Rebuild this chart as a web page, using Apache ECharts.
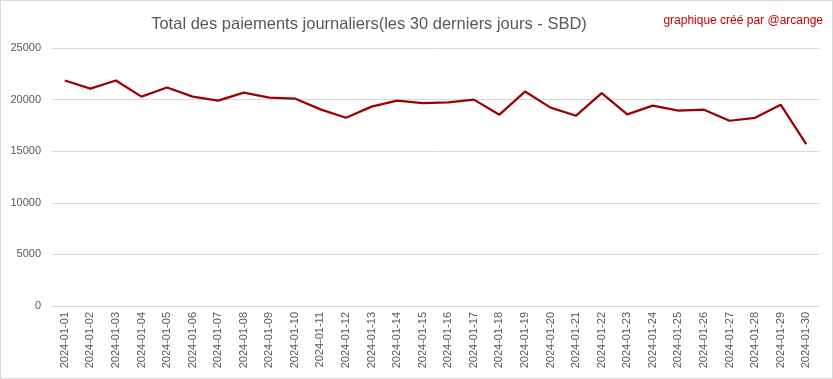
<!DOCTYPE html>
<html><head><meta charset="utf-8">
<script src="https://cdn.jsdelivr.net/npm/echarts@6/dist/echarts.min.js"></script>
<style>html,body{margin:0;padding:0;background:#fff}#c{width:831px;height:377px;border:1px solid #d9d9d9}</style>
</head><body><div id="c"></div>
<script>
const categories = ["2024-01-01","2024-01-02","2024-01-03","2024-01-04","2024-01-05","2024-01-06","2024-01-07","2024-01-08","2024-01-09","2024-01-10","2024-01-11","2024-01-12","2024-01-13","2024-01-14","2024-01-15","2024-01-16","2024-01-17","2024-01-18","2024-01-19","2024-01-20","2024-01-21","2024-01-22","2024-01-23","2024-01-24","2024-01-25","2024-01-26","2024-01-27","2024-01-28","2024-01-29","2024-01-30"];
const payments = [21850,21070,21850,20290,21170,20290,19900,20680,20200,20100,19050,18240,19320,19900,19660,19740,20000,18540,20780,19220,18440,20620,18570,19410,18930,19020,17950,18240,19510,15680];
const yTicks = [0,5000,10000,15000,20000,25000];
const titleText = "Total des paiements journaliers(les 30 derniers jours - SBD)";
const creditText = "graphique créé par @arcange";

const chart = echarts.init(document.getElementById('c'));
chart.setOption({
  animation:false,
  title:[
    {text:titleText,left:363,top:10,textAlign:'center',textStyle:{fontFamily:'Liberation Sans',fontWeight:'normal',fontSize:16.5,color:'#595959'}},
    {text:creditText,right:4,top:9,textStyle:{fontFamily:'Liberation Sans',fontWeight:'normal',fontSize:12,color:'#c00000'}}
  ],
  grid:{left:51,right:13,top:47,bottom:72,containLabel:false},
  xAxis:{type:'category',data:categories,boundaryGap:true,
    axisLine:{lineStyle:{color:'#d9d9d9'}},axisTick:{show:false},
    axisLabel:{rotate:90,interval:0,fontFamily:'Liberation Sans',fontSize:11,color:'#595959',margin:6}},
  yAxis:{type:'value',min:yTicks[0],max:yTicks[yTicks.length-1],interval:5000,
    axisLine:{show:false},axisTick:{show:false},
    splitLine:{lineStyle:{color:'#d9d9d9'}},
    axisLabel:{fontFamily:'Liberation Sans',fontSize:11,color:'#595959',margin:11,formatter:v=>String(v)}},
  series:[{type:'line',data:payments,symbol:'none',lineStyle:{color:'#9c0000',width:2.25}}]
});
</script></body></html>
